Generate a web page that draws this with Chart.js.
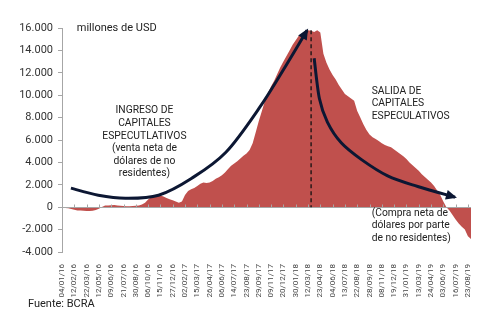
<!DOCTYPE html>
<html>
<head>
<meta charset="utf-8">
<script src="https://cdn.jsdelivr.net/npm/chart.js@4/dist/chart.umd.min.js"></script>
<style>
  body{margin:0;background:#fff;}
  #wrap{width:500px;height:329px;}
</style>
</head>
<body>
<div id="wrap"><canvas id="grafico" width="500" height="329"></canvas></div>
<script>
// fechas que se ven en el eje (una cada 4 puntos)
const fechas = ["04/01/16","12/02/16","22/03/16","12/05/16","09/06/16","21/07/16","30/08/16","06/10/16",
  "15/11/16","27/12/16","02/02/17","15/03/17","26/04/17","06/06/17","14/07/17","23/08/17","29/09/17",
  "09/11/17","20/12/17","30/01/18","12/03/18","23/04/18","04/06/18","13/07/18","22/08/18","28/09/18",
  "08/11/18","19/12/18","31/01/19","13/03/19","24/04/19","03/06/19","16/07/19","23/08/19"];
const PASO = 4;

// stock en millones de USD
const valores = [
  -50,-80,-100,-150,-220,-290,-300,-310,-340,-340,-310,-250,-130,20,150,150,180,200,160,130,
  100,80,80,100,120,160,250,400,680,900,1080,1100,1050,950,830,720,620,500,400,500,
  1100,1450,1600,1720,1900,2100,2200,2150,2200,2350,2550,2680,2850,3100,3400,3700,3900,4100,4350,4600,
  4800,5100,5700,6700,7700,8600,9500,10200,10800,11300,11900,12500,13000,13500,14000,14500,14900,15300,15500,15700,
  15800,15750,15650,15800,15600,13700,12900,12300,11800,11400,10900,10500,10100,9900,9700,9500,8600,8000,7400,6900,
  6500,6250,6100,5900,5700,5550,5450,5350,5150,4950,4750,4550,4300,4000,3750,3500,3250,2950,2700,2450,
  2200,1900,1500,1100,500,0,-300,-700,-1100,-1450,-1750,-2000,-2600,-2850
];

const yMin = -4000, yMax = 16000, yPaso = 2000;

// flechas (indice, valor)
const flechaIngreso = [[2.9,1700],[11.8,1070],[20.6,800],[31.4,1070],[42.2,2590],[53.3,4910],[64.1,8840],[72.9,12680],[79.7,15800]];
const flechaSalida = [[82.0,13300],[83.7,9700],[86.3,7600],[90.8,5750],[97.4,4250],[105.9,2800],[115.7,1850],[127.8,890]];
const indicePico = 81;

const textos = [
  {i:26.8, v:8600, align:"center", lines:["INGRESO DE","CAPITALES","ESPECUTLATIVOS","(venta neta de","dólares de no","residentes)"]},
  {i:100.7, v:10350, align:"left", lines:["SALIDA DE","CAPITALES","ESPECULATIVOS"]},
  {i:100.7, v:-540, align:"left", lines:["(Compra neta de","dólares por parte","de no residentes)"]},
  {i:4.8, v:16000, align:"left", lines:["millones de USD"]}
];

const etiquetas = valores.map((v,i)=> i%PASO===0 ? (fechas[i/PASO]||"") : "");

function curva(ctx, pts){
  ctx.beginPath();
  ctx.moveTo(pts[0][0], pts[0][1]);
  let c2 = pts[0];
  for(let i=0;i<pts.length-1;i++){
    const p0 = pts[i-1]||pts[i], p1 = pts[i], p2 = pts[i+1], p3 = pts[i+2]||pts[i+1];
    const c1 = [p1[0]+(p2[0]-p0[0])/6, p1[1]+(p2[1]-p0[1])/6];
    c2 = [p2[0]-(p3[0]-p1[0])/6, p2[1]-(p3[1]-p1[1])/6];
    ctx.bezierCurveTo(c1[0],c1[1],c2[0],c2[1],p2[0],p2[1]);
  }
  ctx.stroke();
  // punta
  const tip = pts[pts.length-1];
  const ang = Math.atan2(tip[1]-c2[1], tip[0]-c2[0]);
  ctx.beginPath();
  ctx.moveTo(tip[0]+2*Math.cos(ang), tip[1]+2*Math.sin(ang));
  ctx.lineTo(tip[0]-9*Math.cos(ang)+5*Math.sin(ang), tip[1]-9*Math.sin(ang)-5*Math.cos(ang));
  ctx.lineTo(tip[0]-9*Math.cos(ang)-5*Math.sin(ang), tip[1]-9*Math.sin(ang)+5*Math.cos(ang));
  ctx.closePath();
  ctx.fill();
}

const anotaciones = {
  id:"anotaciones",
  afterDatasetsDraw(chart){
    const ctx = chart.ctx, x = chart.scales.x, y = chart.scales.y, a = chart.chartArea;
    const px = p => [x.getPixelForValue(p[0]), y.getPixelForValue(p[1])];
    ctx.save();

    // linea de cero y marcas
    const y0 = Math.round(y.getPixelForValue(0))+0.5;
    ctx.strokeStyle = "#a6a6a6";
    ctx.lineWidth = 1;
    ctx.beginPath();
    ctx.moveTo(a.left, y0); ctx.lineTo(a.right, y0);
    fechas.forEach((f,k)=>{
      const xx = Math.round(x.getPixelForValue(k*PASO))+0.5;
      ctx.moveTo(xx, y0); ctx.lineTo(xx, y0-3);
    });
    ctx.stroke();

    // pico
    const xp = x.getPixelForValue(indicePico);
    ctx.strokeStyle = "#111";
    ctx.lineWidth = 1.3;
    ctx.setLineDash([4,3]);
    ctx.beginPath();
    ctx.moveTo(xp, y.getPixelForValue(15800)); ctx.lineTo(xp, y.getPixelForValue(0));
    ctx.stroke();
    ctx.setLineDash([]);

    // flechas
    ctx.strokeStyle = "#0c1733";
    ctx.fillStyle = "#0c1733";
    ctx.lineWidth = 3;
    curva(ctx, flechaIngreso.map(px));
    curva(ctx, flechaSalida.map(px));

    // textos
    ctx.fillStyle = "#222";
    ctx.textBaseline = "middle";
    textos.forEach((t,n0)=>{
      const p = px([t.i, t.v]);
      ctx.font = n0===3 ? "11px Roboto" : "10.3px Roboto";
      ctx.textAlign = t.align;
      t.lines.forEach((l,n)=> ctx.fillText(l, p[0], p[1]+n*12.6));
    });

    ctx.font = "11px Roboto";
    ctx.textAlign = "left";
    ctx.fillText("Fuente: BCRA", 28, 304);
    ctx.restore();
  }
};

new Chart(document.getElementById("grafico"), {
  type:"line",
  data:{
    labels:etiquetas,
    datasets:[{
      data:valores,
      fill:"origin",
      backgroundColor:"#c0504d",
      borderColor:"#c0504d",
      borderWidth:0,
      pointRadius:0,
      tension:0
    }]
  },
  options:{
    responsive:false,
    animation:false,
    layout:{padding:{top:28,right:29,left:0,bottom:0}},
    plugins:{legend:{display:false},tooltip:{enabled:false}},
    scales:{
      x:{
        offset:false,
        grid:{display:false},
        border:{display:false},
        ticks:{autoSkip:false,minRotation:90,maxRotation:90,padding:4,color:"#444",
          font:{family:"Roboto",size:8},
          callback:(v,i)=> etiquetas[i] || null},
        afterFit(s){ s.height = 77; }
      },
      y:{
        min:yMin, max:yMax,
        grid:{drawOnChartArea:false, color:"#a6a6a6", tickLength:4},
        border:{color:"#a6a6a6"},
        ticks:{stepSize:yPaso, padding:5, color:"#333", font:{family:"Roboto",size:11},
          callback:v=> v.toLocaleString("de-DE")},
        afterFit(s){ s.width = 62; }
      }
    }
  },
  plugins:[anotaciones]
});
</script>
</body>
</html>
